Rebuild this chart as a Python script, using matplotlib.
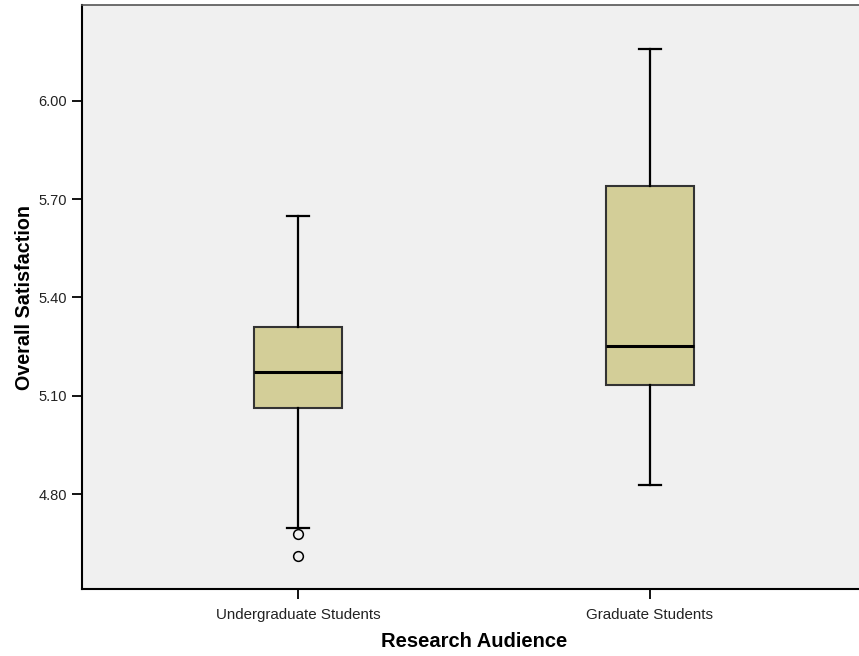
import matplotlib
matplotlib.use("Agg")
import matplotlib.pyplot as plt

# grupos e estatisticas
groups = ["Undergraduate Students", "Graduate Students"]
q1 = [5.063, 5.133]
med = [5.173, 5.252]
q3 = [5.310, 5.740]
whislo = [4.696, 4.827]
whishi = [5.649, 6.159]
fliers = [[4.678, 4.611], []]

yticks = [4.80, 5.10, 5.40, 5.70, 6.00]

plt.rcParams['font.family'] = ['Liberation Sans', 'DejaVu Sans']

fig = plt.figure(figsize=(8.59, 6.56), dpi=100)
ax = fig.add_axes([82/859, 67/656, (866-82)/859, (589-5)/656])
ax.set_facecolor("#F0F0F0")

stats = []
for i in range(len(groups)):
    stats.append(dict(label=groups[i], q1=q1[i], med=med[i], q3=q3[i],
                      whislo=whislo[i], whishi=whishi[i], fliers=fliers[i]))

ax.bxp(stats, positions=[1, 2], widths=0.25, patch_artist=True,
       boxprops=dict(facecolor="#D3CE98", edgecolor="#333333", linewidth=1.5),
       medianprops=dict(color="black", linewidth=2.2),
       whiskerprops=dict(color="black", linewidth=1.6),
       capprops=dict(color="black", linewidth=1.6),
       capwidths=0.062,
       flierprops=dict(marker="o", markersize=7, markerfacecolor="none",
                       markeredgecolor="black", markeredgewidth=1.1))

ax.set_xlim(0.386, 2.614)
ax.set_ylim(4.51, 6.293)
ax.set_yticks(yticks)
ax.set_yticklabels(["%.2f" % v for v in yticks], fontsize=10.5, color="#222222")
ax.set_xticks([1, 2])
ax.set_xticklabels(groups, fontsize=10.9, color="#222222")
ax.tick_params(axis="both", direction="out", length=7, width=1.3, color="black")
ax.tick_params(axis="x", pad=7)
ax.tick_params(axis="y", pad=4)

ax.spines["right"].set_visible(False)
ax.spines["top"].set_color("#555555")
ax.spines["top"].set_linewidth(1.2)
for s in ["left", "bottom"]:
    ax.spines[s].set_color("black")
    ax.spines[s].set_linewidth(1.5)

ax.set_ylabel("Overall Satisfaction", fontsize=14.2, fontweight="bold", labelpad=3)
ax.set_xlabel("Research Audience", fontsize=14.5, fontweight="bold", labelpad=7)

fig.savefig("out.png", dpi=100)
